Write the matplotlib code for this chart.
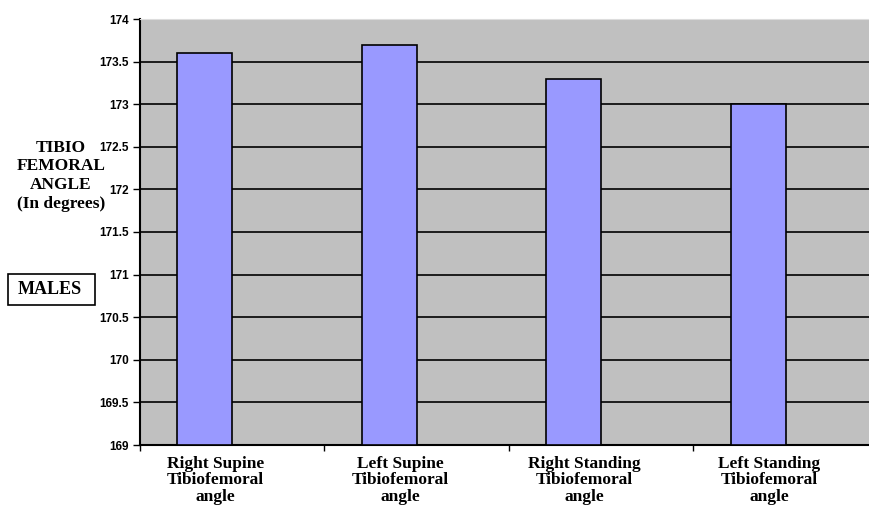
import matplotlib
matplotlib.use("Agg")
import matplotlib.pyplot as plt
from matplotlib.patches import Rectangle
import numpy as np

categories = ["Right Supine\nTibiofemoral\nangle",
              "Left Supine\nTibiofemoral\nangle",
              "Right Standing\nTibiofemoral\nangle",
              "Left Standing\nTibiofemoral\nangle"]
values = [173.6, 173.7, 173.3, 173.0]
y_ticks = [169, 169.5, 170, 170.5, 171, 171.5, 172, 172.5, 173, 173.5, 174]
y_tick_labels = ["169", "169.5", "170", "170.5", "171", "171.5", "172",
                 "172.5", "173", "173.5", "174"]
y_title_lines = ["TIBIO", "FEMORAL", "ANGLE", "(In degrees)"]

W, H = 870, 512
fig = plt.figure(figsize=(W / 100, H / 100), dpi=100)
ax = fig.add_axes([140 / W, 1 - 445 / H, 738 / W, 426 / H])
ax.set_facecolor("#c0c0c0")

x = np.arange(len(values))
bar_w = 55 / 184
ax.bar(x - bar_w / 2, values - np.array(169.0), bottom=169.0, width=bar_w,
       color="#9999ff", edgecolor="black", linewidth=1.2, zorder=3)

ax.set_xlim(-0.5, len(values) - 0.5)
ax.set_ylim(169, 174)
ax.set_yticks(y_ticks)
ax.set_yticklabels(y_tick_labels, fontsize=8.5, fontweight="bold",
                   family="Liberation Sans")
ax.yaxis.grid(True, color="black", linewidth=1.2, zorder=1)
ax.set_axisbelow(True)

ax.set_xticks(np.arange(-0.5, len(values) + 0.5, 1.0))
ax.set_xticklabels([])
ax.tick_params(axis="x", direction="out", length=4, width=1)
ax.tick_params(axis="y", direction="out", length=5, width=1, pad=3)

for i, lab in enumerate(categories):
    ax.text(i - 0.09, -0.025, lab, transform=ax.get_xaxis_transform(),
            ha="center", va="top", fontsize=12.5, fontweight="bold",
            family="Liberation Serif", linespacing=1.05)

ax.spines["top"].set_color("#dddddd")
ax.spines["right"].set_visible(False)
ax.spines["left"].set_linewidth(1.5)
ax.spines["bottom"].set_linewidth(1.5)

# axis title, one line per text, centred in the left margin
for k, line in enumerate(y_title_lines):
    fig.text(61 / W, 1 - (148 + 18.5 * k) / H, line, ha="center",
             va="center", fontsize=12.5, fontweight="bold",
             family="Liberation Serif")

fig.patches.append(Rectangle((8 / W, 1 - 305 / H), 87 / W, 31 / H,
                             transform=fig.transFigure, facecolor="white",
                             edgecolor="black", linewidth=1.2))
fig.text(50 / W, 1 - 289 / H, "MALES", ha="center", va="center",
         fontsize=13, fontweight="bold", family="Liberation Serif")

fig.savefig("out.png", dpi=100)
